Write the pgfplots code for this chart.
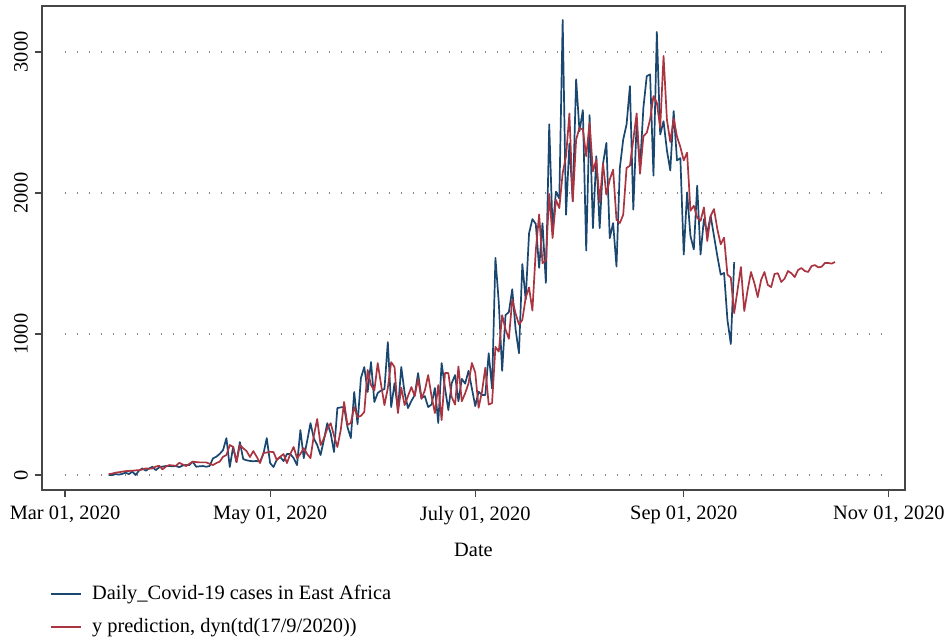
\documentclass[border=0pt]{standalone}
\usepackage{fontspec}
\setmainfont{Liberation Serif}
\usepackage{pgfplots}
\pgfplotsset{compat=1.18}
\usepackage{pgfplotstable}
\definecolor{sblue}{RGB}{26,71,111}
\definecolor{sred}{RGB}{170,52,64}
\definecolor{sframe}{RGB}{70,70,70}

% day = days since 2020-03-01
\pgfplotstableread{
d v
13 0
14 0
15 7
16 3
17 8
18 17
19 7
20 24
21 0
22 31
23 47
24 31
25 47
26 59
27 35
28 55
29 60
30 64
31 64
32 62
33 64
34 56
35 68
36 71
37 71
38 95
39 59
40 62
41 64
42 59
43 64
44 118
45 130
46 150
47 177
48 262
49 57
50 200
51 92
52 234
53 113
54 105
55 100
56 98
57 100
58 95
59 150
60 262
61 85
62 57
63 110
64 128
65 99
66 149
67 149
68 120
69 71
70 319
71 120
72 240
73 368
74 260
75 213
76 142
77 250
78 368
79 298
80 163
81 475
82 480
83 482
84 340
85 262
86 589
87 361
88 688
89 766
90 589
91 801
92 518
93 582
94 600
95 610
96 943
97 482
98 652
99 461
100 766
101 582
102 475
103 525
104 567
105 723
106 546
107 560
108 482
109 500
110 617
111 369
112 794
113 617
114 461
115 652
116 709
117 523
118 682
119 648
120 739
121 614
122 489
123 591
124 568
125 568
126 864
127 614
128 1540
129 1223
130 739
131 1134
132 1156
133 1317
134 1033
135 864
136 1496
137 1245
138 1714
139 1815
140 1781
141 1469
142 1786
143 1362
144 2487
145 1737
146 2010
147 1960
148 3227
149 1846
150 2351
151 1941
152 2806
153 2438
154 2588
155 1592
156 2552
157 1751
158 2261
159 1751
160 2209
161 2356
162 1680
163 1787
164 1479
165 2178
166 2379
167 2486
168 2758
169 1882
170 2498
171 2178
172 2604
173 2829
174 2841
175 2123
176 3142
177 2415
178 2509
179 2302
180 2160
181 2581
182 2231
183 2248
184 1564
185 2005
186 1695
187 1600
188 2052
189 1564
190 1814
191 1719
192 1838
193 1695
194 1552
195 1421
196 1433
197 1100
198 929
199 1510
}\cases

\pgfplotstableread{
d v
13 7
14 10
15 17
16 20
17 24
18 28
19 29
20 31
21 33
22 35
23 40
24 47
25 45
26 47
27 60
28 66
29 40
30 60
31 71
32 68
33 66
34 87
35 75
36 64
37 80
38 95
39 92
40 90
41 90
42 90
43 80
44 71
45 85
46 95
47 130
48 142
49 213
50 200
51 92
52 213
53 190
54 170
55 128
56 170
57 130
58 85
59 156
60 160
61 165
62 163
63 106
64 130
65 149
66 85
67 150
68 199
69 120
70 150
71 191
72 150
73 120
74 280
75 397
76 213
77 260
78 330
79 368
80 280
81 199
82 319
83 518
84 355
85 370
86 482
87 411
88 420
89 447
90 745
91 638
92 600
93 794
94 640
95 496
96 617
97 801
98 766
99 440
100 620
101 496
102 560
103 624
104 560
105 681
106 540
107 600
108 709
109 560
110 440
111 638
112 390
113 723
114 723
115 553
116 500
117 770
118 523
119 580
120 650
121 795
122 727
123 477
124 591
125 761
126 500
127 511
128 909
129 875
130 1134
131 1033
132 966
133 1245
134 1145
135 1067
136 1100
137 1257
138 1330
139 1167
140 1592
141 1848
142 1502
143 1524
144 1993
145 1681
146 1951
147 1893
148 2142
149 2261
150 2564
151 1941
152 2379
153 2462
154 2450
155 2261
156 2498
157 2154
158 2237
159 1934
160 2209
161 1988
162 2095
163 2166
164 1810
165 1787
166 1846
167 2178
168 2194
169 2379
170 2564
171 2137
172 2403
173 2427
174 2521
175 2687
176 2640
177 2462
178 2972
179 2521
180 2362
181 2528
182 2400
183 2326
184 2231
185 2286
186 1874
187 1910
188 1826
189 1802
190 1898
191 1660
192 1838
193 1886
194 1743
195 1636
196 1683
197 1421
198 1400
199 1148
200 1312
201 1475
202 1163
203 1312
204 1440
205 1362
206 1262
207 1383
208 1440
209 1348
210 1333
211 1426
212 1431
213 1369
214 1393
215 1447
216 1431
217 1404
218 1454
219 1468
220 1447
221 1440
222 1482
223 1489
224 1473
225 1477
226 1504
227 1504
228 1499
229 1511
}\pred

\begin{document}
\begin{tikzpicture}
\useasboundingbox (-21pt,-74.5pt) rectangle (453pt,245pt);
\begin{axis}[
  at={(0,0)}, anchor=south west,
  scale only axis, width=431.5pt, height=242pt,
  xmin=-6.84, xmax=249.8, ymin=-106, ymax=3326,
  xtick={0,61,122,184,245},
  xticklabels={{Mar 01, 2020},{May 01, 2020},{July 01, 2020},{Sep 01, 2020},{Nov 01, 2020}},
  ytick={0,1000,2000,3000},
  /pgf/number format/1000 sep={},
  /pgf/number format/assume math mode=true,
  tick align=outside, xtick pos=bottom, ytick pos=left,
  major tick length=3.5pt,
  axis line style={sframe, line width=0.6pt},
  every tick/.style={sframe, line width=0.6pt},
  tick label style={font=\fontsize{10.2}{12}\selectfont},
  yticklabel style={rotate=90, anchor=south, xshift=0pt},
  xticklabel style={yshift=-1pt},
  xlabel={Date},
  xlabel style={font=\fontsize{10.2}{12}\selectfont, yshift=-2.5pt},
  legend style={at={(axis description cs:0.0093,-0.1874)}, anchor=north west,
    draw=none, fill=none, inner sep=0pt, row sep=4pt,
    font=\fontsize{10.2}{12}\selectfont, legend cell align=left},
  legend image code/.code={\draw[#1] (0pt,0pt) -- (15pt,0pt); \path (18pt,0pt);},
]
\addplot[gray!95, line width=0.9pt, dash pattern=on 0.6pt off 5.4pt, forget plot] coordinates {(0,0) (245,0)};
\addplot[gray!95, line width=0.9pt, dash pattern=on 0.6pt off 5.4pt, forget plot] coordinates {(0,1000) (245,1000)};
\addplot[gray!95, line width=0.9pt, dash pattern=on 0.6pt off 5.4pt, forget plot] coordinates {(0,2000) (245,2000)};
\addplot[gray!95, line width=0.9pt, dash pattern=on 0.6pt off 5.4pt, forget plot] coordinates {(0,3000) (245,3000)};
\addplot[sblue, line width=0.85pt, line join=round] table[x=d, y=v] {\cases};
\addlegendentry{Daily\_Covid-19 cases in East Africa}
\addplot[sred, line width=0.85pt, line join=round] table[x=d, y=v] {\pred};
\addlegendentry{y prediction, dyn(td(17/9/2020))}
\end{axis}
\end{tikzpicture}
\end{document}
